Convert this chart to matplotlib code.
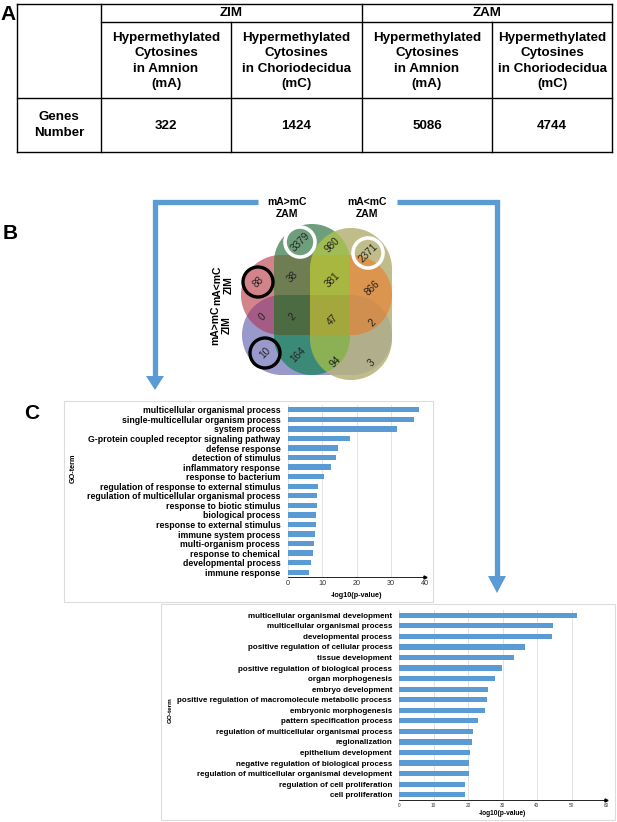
import matplotlib
matplotlib.use("Agg")
import matplotlib.pyplot as plt
import numpy as np
from matplotlib.colors import to_rgb
from matplotlib.patches import Circle, Rectangle, Polygon

plt.rcParams['font.family'] = ['Liberation Sans', 'DejaVu Sans']

W, H = 617, 822

# ---- panel A: table ----
GROUPS = ["ZIM", "ZAM"]
COL_HEADERS = ["Hypermethylated\nCytosines\nin Amnion\n(mA)",
               "Hypermethylated\nCytosines\nin Choriodecidua\n(mC)",
               "Hypermethylated\nCytosines\nin Amnion\n(mA)",
               "Hypermethylated\nCytosines\nin Choriodecidua\n(mC)"]
ROW_LABEL = "Genes\nNumber"
GENE_COUNTS = [322, 1424, 5086, 4744]

# ---- panel B: 4-set venn (R = mA<mC ZIM, B = mA>mC ZIM, G = mA>mC ZAM, Y = mA<mC ZAM)
SET_NAMES = ["mA<mC\nZIM", "mA>mC\nZIM", "mA>mC\nZAM", "mA<mC\nZAM"]
REGIONS = ["G", "GY", "Y", "R", "RG", "RGY", "RY",
           "RB", "RBG", "RBGY", "RBY", "B", "BG", "BGY", "BY"]
REGION_COUNTS = [3379, 980, 2371, 88, 38, 381, 866,
                 0, 2, 47, 2, 10, 164, 94, 3]
HIGHLIGHT_WHITE = ["G", "Y"]
HIGHLIGHT_BLACK = ["R", "B"]

# ---- panel C: GO enrichment ----
TERMS_1 = ["multicellular organismal process",
           "single-multicellular organism process",
           "system process",
           "G-protein coupled receptor signaling pathway",
           "defense response",
           "detection of stimulus",
           "inflammatory response",
           "response to bacterium",
           "regulation of response to external stimulus",
           "regulation of multicellular organismal process",
           "response to biotic stimulus",
           "biological process",
           "response to external stimulus",
           "immune system process",
           "multi-organism process",
           "response to chemical",
           "developmental process",
           "immune response"]
LOGP_1 = [38.3, 36.9, 31.7, 18.1, 14.5, 13.9, 12.5, 10.4, 8.9,
          8.6, 8.6, 8.3, 8.2, 7.8, 7.5, 7.3, 6.6, 6.2]

TERMS_2 = ["multicellular organismal development",
           "multicellular organismal process",
           "developmental process",
           "positive regulation of cellular process",
           "tissue development",
           "positive regulation of biological process",
           "organ morphogenesis",
           "embryo development",
           "positive regulation of macromolecule metabolic process",
           "embryonic morphogenesis",
           "pattern specification process",
           "regulation of multicellular organismal process",
           "regionalization",
           "epithelium development",
           "negative regulation of biological process",
           "regulation of multicellular organismal development",
           "regulation of cell proliferation",
           "cell proliferation"]
LOGP_2 = [51.6, 44.6, 44.3, 36.6, 33.2, 29.8, 27.8, 25.8, 25.5,
          25.0, 22.8, 21.5, 21.1, 20.5, 20.2, 20.2, 19.1, 19.0]

BAR_COLOR = "#5b9bd5"
ARROW_COLOR = "#5b9bd5"
REGION_COLORS = {"G": "#6e9f7c", "GY": "#a2bc55", "Y": "#c0bd8c",
                 "R": "#d3838a", "RG": "#6f7d52", "RGY": "#a8b840", "RY": "#dc9650",
                 "RB": "#a45c84", "RBG": "#4d6b43", "RBGY": "#a4a83c", "RBY": "#d08f50",
                 "B": "#9a9acb", "BG": "#3b8a77", "BGY": "#8db155", "BY": "#b2b08c"}

fig = plt.figure(figsize=(W / 100, H / 100), dpi=100)
ov = fig.add_axes([0, 0, 1, 1])
ov.axis("off")

# panel letters
for lab, (lx, ly) in zip("ABC", [(8, 15), (10, 233), (32, 413)]):
    ov.text(lx, ly, lab, fontsize=15, fontweight="bold", ha="center", va="center")

# ---- table ----
col_x = [17, 101, 231, 362, 492, 612]
row_y = [4, 22, 98, 152]
lw_t = 1.0
ov.plot([col_x[0], col_x[-1]], [row_y[0]] * 2, color="k", lw=lw_t)
ov.plot([col_x[0], col_x[-1]], [row_y[-1]] * 2, color="k", lw=lw_t)
ov.plot([col_x[1], col_x[-1]], [row_y[1]] * 2, color="k", lw=lw_t)
ov.plot([col_x[0], col_x[-1]], [row_y[2]] * 2, color="k", lw=lw_t)
for i, cx in enumerate(col_x):
    top = row_y[0] if i in (0, 1, 3, 5) else row_y[1]
    ov.plot([cx, cx], [top, row_y[-1]], color="k", lw=lw_t)
tfs = 9.6
for g, name in enumerate(GROUPS):
    xc = (col_x[1 + 2 * g] + col_x[3 + 2 * g]) / 2
    ov.text(xc, (row_y[0] + row_y[1]) / 2, name, ha="center", va="center",
            fontsize=tfs, fontweight="bold")
for j, hdr in enumerate(COL_HEADERS):
    xc = (col_x[1 + j] + col_x[2 + j]) / 2
    ov.text(xc, (row_y[1] + row_y[2]) / 2 + 1, hdr, ha="center", va="center",
            fontsize=tfs, fontweight="bold", linespacing=1.38)
    ov.text(xc, (row_y[2] + row_y[3]) / 2 + 1, str(GENE_COUNTS[j]), ha="center",
            va="center", fontsize=tfs, fontweight="bold")
ov.text((col_x[0] + col_x[1]) / 2, (row_y[2] + row_y[3]) / 2, ROW_LABEL,
        ha="center", va="center", fontsize=tfs, fontweight="bold", linespacing=1.38)

# ---- venn: rounded (stadium) shapes, each region painted with its own colour ----
shapes = {"R": (241, 255, 151, 80), "B": (242, 295, 150, 80),
          "G": (274, 224, 76, 151), "Y": (310, 228, 82, 152)}
ss = 4
vx0, vx1, vy0, vy1 = 235, 395, 220, 385
nx, ny = (vx1 - vx0) * ss, (vy1 - vy0) * ss
X, Y = np.meshgrid(vx0 + (np.arange(nx) + 0.5) / ss, vy0 + (np.arange(ny) + 0.5) / ss)


def inside(x0, y0, w, h):
    r = min(w, h) / 2
    if w >= h:
        px = np.clip(X, x0 + r, x0 + w - r)
        return (X - px) ** 2 + (Y - (y0 + h / 2)) ** 2 <= r * r
    py = np.clip(Y, y0 + r, y0 + h - r)
    return (X - (x0 + w / 2)) ** 2 + (Y - py) ** 2 <= r * r


masks = {k: inside(*v) for k, v in shapes.items()}
hi = np.zeros((ny, nx, 4))
for reg, col in REGION_COLORS.items():
    m = np.ones_like(X, dtype=bool)
    for k in "RBGY":
        m &= masks[k] if k in reg else ~masks[k]
    hi[m, :3] = to_rgb(col)
    hi[m, 3] = 1.0
blk = hi.reshape(ny // ss, ss, nx // ss, ss, 4)
alpha = blk[..., 3].mean(axis=(1, 3))
wsum = np.maximum(blk[..., 3].sum(axis=(1, 3)), 1e-9)
rgb = (blk[..., :3] * blk[..., 3:4]).sum(axis=(1, 3)) / wsum[..., None]
ov.imshow(np.dstack([rgb, alpha]), extent=(vx0, vx1, vy1, vy0),
          interpolation="nearest", aspect="auto", zorder=1)

label_pos = {"G": (300, 242), "GY": (332, 245), "Y": (368, 253),
             "R": (258, 282), "RG": (292, 277), "RGY": (332, 280), "RY": (372, 288),
             "RB": (262, 317), "RBG": (292, 317), "RBGY": (333, 320), "RBY": (372, 323),
             "B": (265, 353), "BG": (298, 355), "BGY": (335, 362), "BY": (372, 363)}
for reg, cnt in zip(REGIONS, REGION_COUNTS):
    px, py = label_pos[reg]
    ov.text(px, py, str(cnt), rotation=45, ha="center", va="center",
            fontsize=7.2, color="#222222", zorder=3)
for reg in HIGHLIGHT_WHITE:
    ov.add_patch(Circle(label_pos[reg], 15, fill=False, ec="white", lw=2.6, zorder=4))
for reg in HIGHLIGHT_BLACK:
    ov.add_patch(Circle(label_pos[reg], 15, fill=False, ec="black", lw=2.4, zorder=4))

set_lab_pos = [(223, 285, 90), (221, 325, 90), (287, 208, 0), (367, 208, 0)]
for name, (sx, sy, rot) in zip(SET_NAMES, set_lab_pos):
    ov.text(sx, sy, name, rotation=rot, ha="center", va="center",
            fontsize=7.5, fontweight="bold", linespacing=1.15)

# arrows
ov.plot([258, 155, 155], [202, 202, 378], color=ARROW_COLOR, lw=3.8,
        solid_joinstyle="miter", solid_capstyle="butt")
ov.add_patch(Polygon([(146, 376), (164, 376), (155, 390)], closed=True,
                     fc=ARROW_COLOR, ec="none"))
ov.plot([397, 497, 497], [202, 202, 578], color=ARROW_COLOR, lw=3.8,
        solid_joinstyle="miter", solid_capstyle="butt")
ov.add_patch(Polygon([(488, 576), (506, 576), (497, 593)], closed=True,
                     fc=ARROW_COLOR, ec="none"))

# panel boxes for C
ov.add_patch(Rectangle((64, 401), 369, 201, fill=False, ec="#dcdcdc", lw=0.8))
ov.add_patch(Rectangle((161, 604), 454, 216, fill=False, ec="#dcdcdc", lw=0.8))

ov.text(73, 468, "GO-term", rotation=90, ha="center", va="center",
        fontsize=5.2, fontweight="bold")
ov.text(170, 710, "GO-term", rotation=90, ha="center", va="center",
        fontsize=4.6, fontweight="bold")

ov.set_xlim(0, W)
ov.set_ylim(H, 0)


def go_bars(rect, terms, vals, xmax, lab_fs, tick_fs, xl_fs, pad, bh, lpad):
    ax = fig.add_axes(rect)
    ax.set_facecolor("none")
    y = range(len(terms))
    ax.barh(y, vals, height=bh, color=BAR_COLOR, zorder=3)
    ax.set_yticks(list(y))
    ax.set_yticklabels(terms, fontsize=lab_fs, fontweight="bold")
    ax.set_ylim(len(terms) - 0.5, -0.5)
    ax.set_xlim(0, xmax)
    ax.set_xticks(list(range(0, xmax + 1, 10)))
    ax.tick_params(axis="y", length=0, pad=pad)
    ax.tick_params(axis="x", length=0, labelsize=tick_fs, pad=2, colors="#333333")
    ax.xaxis.grid(True, color="#e3e3e3", lw=0.7)
    ax.set_axisbelow(True)
    for s in ("top", "right", "left"):
        ax.spines[s].set_visible(False)
    ax.spines["bottom"].set_linewidth(0.6)
    ax.plot(1, 0, ">", color="k", ms=2.2, transform=ax.transAxes, clip_on=False)
    ax.set_xlabel("-log10(p-value)", fontsize=xl_fs, fontweight="bold", labelpad=lpad)
    return ax


go_bars([288 / W, 1 - 577 / H, 137 / W, 172 / H], TERMS_1, LOGP_1, 40,
        6.3, 5.2, 5.2, 5.5, 0.55, 3.5)
go_bars([399 / W, 1 - 800 / H, 207 / W, 190 / H], TERMS_2, LOGP_2, 60,
        5.75, 3.4, 4.8, 5.0, 0.5, 1.5)

fig.savefig("out.png", dpi=100)
